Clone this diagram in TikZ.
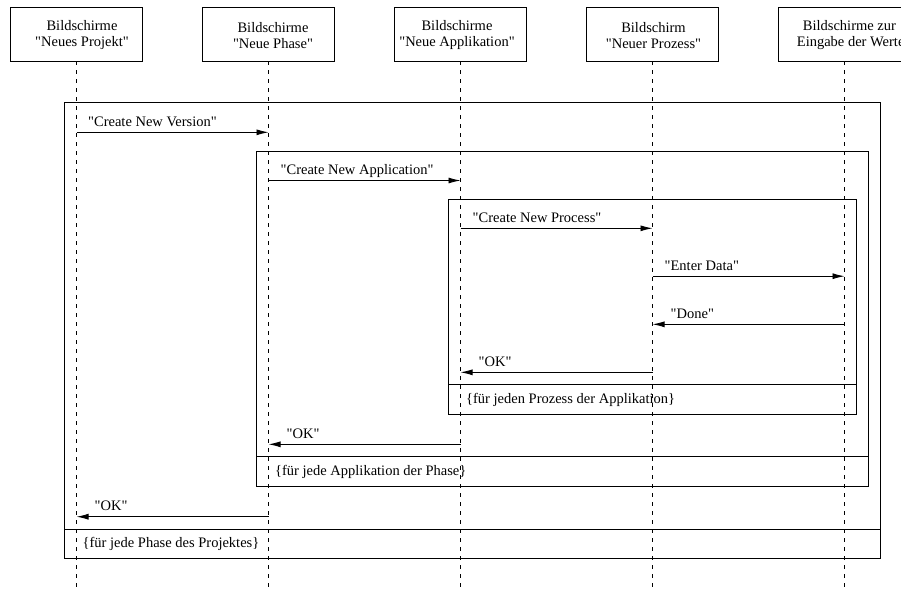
\documentclass[tikz,border=0pt]{standalone}
\usepackage{fontspec}
\setmainfont{Liberation Serif}[Ligatures=TeXOff]
\usetikzlibrary{arrows.meta}
\begin{document}
\begin{tikzpicture}[x=1pt,y=-1pt,
  every node/.style={font=\fontsize{14.5}{16}\selectfont, inner sep=0pt},
  screen/.style={draw, line width=0.9pt, minimum width=132, minimum height=54},
  title/.style={align=center},
  lifeline/.style={line width=0.9pt, dash pattern=on 4pt off 5pt},
  frame/.style={draw, line width=0.9pt},
  msg/.style={line width=0.9pt, -{Latex[length=12pt,width=6pt]}},
  msglabel/.style={anchor=base west},
  guard/.style={anchor=base west}]
\useasboundingbox (0,0) rectangle (901,590);
\clip (0,0) rectangle (901,590);

% participants
\node[screen] (p1) at (76.5,34) {};
\node[screen] (p2) at (268.5,34) {};
\node[screen] (p3) at (460.5,34) {};
\node[screen] (p4) at (652.5,34) {};
\node[screen] (p5) at (844.5,34) {};
\node[title] (t1) at (82,35.5) {Bildschirme\\"Neues Projekt"};
\node[title] (t2) at (273,35.5) {Bildschirme\\"Neue Phase"};
\node[title] (t3) at (457,35.5) {Bildschirme\\"Neue Applikation"};
\node[title] (t4) at (653.5,35.5) {Bildschirm\\"Neuer Prozess"};
\node[align=left, anchor=west] (t5) at (796.7,35.5) {\hspace*{6pt}Bildschirme zur\\Eingabe der Werte};

% lifelines
\foreach \p in {p1,p2,p3,p4,p5}
  \draw[lifeline] (\p.south) -- (\p.south |- 0,590);

% loop frames
\draw[frame] (64,102.5) rectangle (880.5,558);
\draw[frame] (64,529) -- (880.5,529);
\draw[frame] (256.8,151) rectangle (868.3,486.5);
\draw[frame] (256.8,456.5) -- (868.3,456.5);
\draw[frame] (448.5,199) rectangle (856.5,414.3);
\draw[frame] (448.5,384.3) -- (856.5,384.3);

\node[guard] (g1) at (82.5,547) {\{für jede Phase des Projektes\}};
\node[guard] (g2) at (275,475.5) {\{für jede Applikation der Phase\}};
\node[guard] (g3) at (466,403.5) {\{für jeden Prozess der Applikation\}};

% messages
\draw[msg] (p1 |- 0,132.3) -- (p2 |- 0,132.3);
\node[msglabel] (m1) at (88,126.5) {"Create New Version"};
\draw[msg] (p2 |- 0,180.5) -- (p3 |- 0,180.5);
\node[msglabel] (m2) at (280.5,174.7) {"Create New Application"};
\draw[msg] (p3 |- 0,228.3) -- (p4 |- 0,228.3);
\node[msglabel] (m3) at (472.5,222.5) {"Create New Process"};
\draw[msg] (p4 |- 0,276.2) -- (p5 |- 0,276.2);
\node[msglabel] (m4) at (664.5,270.4) {"Enter Data"};
\draw[msg] (p5 |- 0,324.3) -- (p4 |- 0,324.3);
\node[msglabel] (m5) at (670.5,318.5) {"Done"};
\draw[msg] (p4 |- 0,372.3) -- (p3 |- 0,372.3);
\node[msglabel] (m6) at (478.5,366.5) {"OK"};
\draw[msg] (p3 |- 0,444.3) -- (p2 |- 0,444.3);
\node[msglabel] (m7) at (286.5,438.5) {"OK"};
\draw[msg] (p2 |- 0,516.7) -- (p1 |- 0,516.7);
\node[msglabel] (m8) at (94.5,510.9) {"OK"};
\end{tikzpicture}
\end{document}
